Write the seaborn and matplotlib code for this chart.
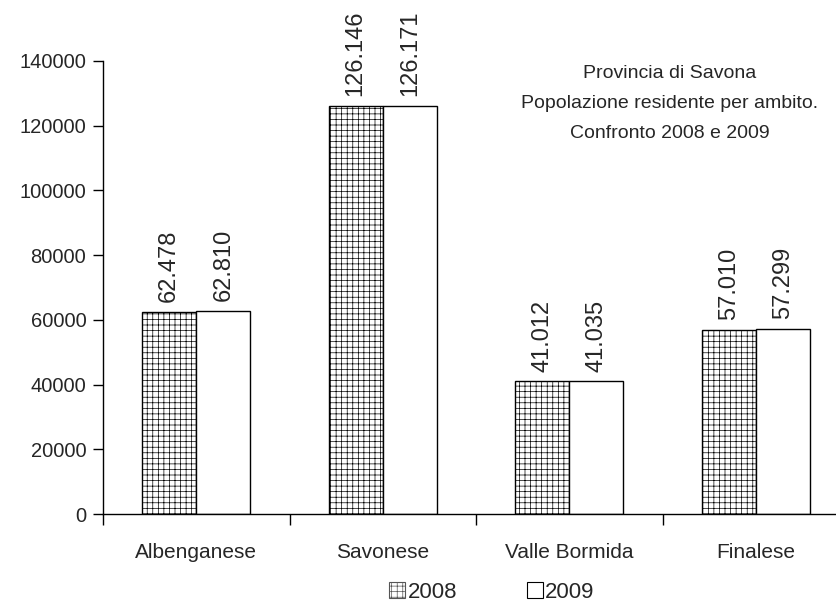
import matplotlib
matplotlib.use("Agg")
import matplotlib.pyplot as plt
import seaborn as sns
import pandas as pd
from matplotlib.ticker import FixedLocator, NullFormatter

# Resident population by district, Province of Savona
ambiti = ["Albenganese", "Savonese", "Valle Bormida", "Finalese"]
anni = ["2008", "2009"]
pop_2008 = [62478, 126146, 41012, 57010]
pop_2009 = [62810, 126171, 41035, 57299]
y_ticks = [0, 20000, 40000, 60000, 80000, 100000, 120000, 140000]

df = pd.DataFrame({
    "ambito": ambiti * 2,
    "anno": [anni[0]] * len(ambiti) + [anni[1]] * len(ambiti),
    "popolazione": pop_2008 + pop_2009,
})

sns.set_theme(style="white")
plt.rcParams["font.family"] = ["Liberation Sans", "DejaVu Sans"]
plt.rcParams["hatch.color"] = "#a8a8a8"
plt.rcParams["hatch.linewidth"] = 0.5

fig = plt.figure(figsize=(8.36, 6.06), dpi=100)
ax = fig.add_axes([103 / 836, 92 / 606, (849 - 103) / 836, (514 - 61) / 606])

sns.barplot(data=df, x="ambito", y="popolazione", hue="anno", order=ambiti,
            hue_order=anni, palette=["white", "white"], width=0.58,
            edgecolor="black", linewidth=1.0, ax=ax, legend=False)

# Fine grid pattern for the 2008 series
for bar in ax.containers[0]:
    bar.set_hatch("+++")
    bar.set_edgecolor("black")

# Rotated value labels with Italian thousands separator
for cont in ax.containers:
    labels = [f"{int(v):,}".replace(",", ".") for v in cont.datavalues]
    ax.bar_label(cont, labels=labels, rotation=90, padding=7, fontsize=17)

ax.set_xlim(-0.5, 3.5)
ax.set_ylim(0, 140000)
ax.set_yticks(y_ticks)
ax.set_yticklabels([str(t) for t in y_ticks], fontsize=14.5)
ax.set_xlabel("")
ax.set_ylabel("")
ax.tick_params(axis="x", which="major", length=0, pad=21, labelsize=15)
ax.xaxis.set_minor_locator(FixedLocator([-0.5, 0.5, 1.5, 2.5, 3.5]))
ax.xaxis.set_minor_formatter(NullFormatter())
ax.tick_params(axis="x", which="minor", bottom=True, length=8, width=1,
               direction="out", color="black")
ax.tick_params(axis="y", left=True, length=7, width=1, direction="out",
               color="black", pad=5)

for side in ["top", "right"]:
    ax.spines[side].set_visible(False)
for side in ["left", "bottom"]:
    ax.spines[side].set_color("black")
    ax.spines[side].set_linewidth(1.0)

# Legend below the plot
handles = [
    matplotlib.patches.Patch(facecolor="white", edgecolor="#555555",
                             hatch="+++", linewidth=0.8),
    matplotlib.patches.Patch(facecolor="white", edgecolor="black",
                             linewidth=0.8),
]
fig.legend(handles, anni, loc="center", bbox_to_anchor=(492 / 836, 14 / 606),
           ncol=2, frameon=False, fontsize=16, handlelength=0.72,
           handleheight=0.72, handletextpad=0.12, columnspacing=3.1)

fig.text(670 / 836, 1 - 104 / 606,
         "Provincia di Savona\nPopolazione residente per ambito.\nConfronto 2008 e 2009",
         ha="center", va="center", multialignment="center", fontsize=14,
         linespacing=2.0)

fig.savefig("out.png", dpi=100)
